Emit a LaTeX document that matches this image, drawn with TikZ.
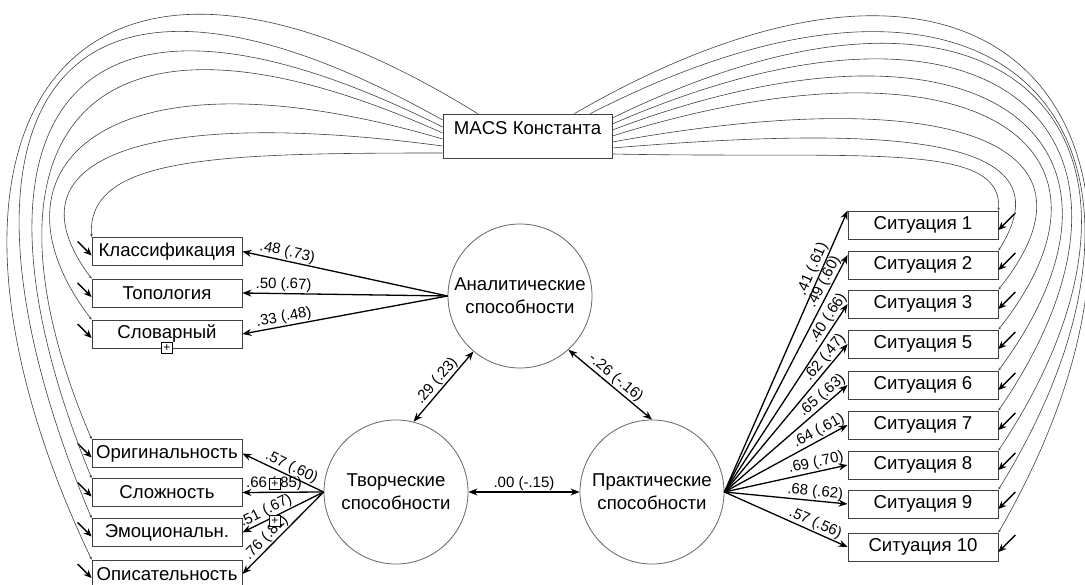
\documentclass[tikz,border=0pt]{standalone}
\usepackage{fontspec}
\setmainfont{Liberation Sans}
\usetikzlibrary{arrows.meta,calc,positioning}

\begin{document}
\begin{tikzpicture}[x=1pt,y=-1pt,
    var/.style={draw=black!75, line width=0.8pt, fill=white, minimum width=150pt, minimum height=28pt, inner sep=0pt, font=\fontsize{18.6}{20}\selectfont},
    fac/.style={circle, draw=black!60, line width=0.8pt, minimum size=144pt, inner sep=0pt, align=center, font=\fontsize{18.6}{23}\selectfont},
    load/.style={line width=1.3pt, -{Stealth[length=9pt,width=7pt]}},
    corr/.style={line width=1.3pt, {Stealth[length=9pt,width=7pt]}-{Stealth[length=9pt,width=7pt]}},
    est/.style={font=\fontsize{15}{16}\selectfont, sloped, above, inner sep=1pt},
    res/.style={line width=1.3pt, -{Stealth[length=8pt,width=7pt]}},
    cst/.style={line width=0.6pt, black!75, -{Stealth[length=3pt,width=2.5pt]}},
    plusbox/.style={draw, fill=white, minimum size=11pt, inner sep=0pt, line width=0.8pt, font=\fontsize{12}{12}\selectfont}]
    \useasboundingbox (0,0) rectangle (1085,585);

    % Constant
    \node[var, minimum width=169pt, text height=17pt, text depth=19pt, inner ysep=4pt] (macs) at (527.5,136) {MACS Константа};

    % Factors
    \node[fac] (an) at (520,296) {Аналитические\\способности};
    \node[fac] (tv) at (396,492) {Творческие\\способности};
    \node[fac] (pr) at (652,492) {Практические\\способности};

    % Indicators
    \foreach \n/\y/\t in {k1/251.5/Классификация, k2/293/Топология, k3/334/Словарный, k4/453.5/Оригинальность, k5/492.5/Сложность, k6/532.5/Эмоциональн., k7/574/Описательность}
        \node[var] (\n) at (167,\y) {\t};
    \foreach \n/\y/\t in {s1/225/Ситуация 1, s2/265/Ситуация 2, s3/304/Ситуация 3, s5/344/Ситуация 5, s6/385/Ситуация 6, s7/425/Ситуация 7, s8/465/Ситуация 8, s9/504/Ситуация 9, s10/547/Ситуация 10}
        \node[var] (\n) at (923,\y) {\t};

    % Loadings
    \draw[load] (an.west) -- node[est, pos=0.79] {.48 (.73)} (k1.east);
    \draw[load] (an.west) -- node[est, pos=0.8] {.50 (.67)} (k2.east);
    \draw[load] (an.west) -- node[est, pos=0.79] {.33 (.48)} (k3.east);

    \draw[load] (tv.west) -- node[est, pos=0.44] {.57 (.60)} (k4.east);
    \draw[load] (tv.west) -- node[est, pos=0.61] {.66 (.85)} (k5.east);
    \draw[load] (tv.west) -- node[est, pos=0.66] {.51 (.67)} (k6.east);
    \draw[load] (tv.west) -- node[est, pos=0.63] {.76 (.81)} (k7.east);

    \draw[load] (pr.east) -- node[est, pos=0.78] {.41 (.61)} (s1.north west);
    \draw[load] (pr.east) -- node[est, pos=0.87] {.49 (.60)} ([yshift=10pt]s2.west);
    \draw[load] (pr.east) -- node[est, pos=0.9] {.40 (.66)} (s3.west);
    \draw[load] (pr.east) -- node[est, pos=0.87] {.62 (.47)} (s5.west);
    \draw[load] (pr.east) -- node[est, pos=0.84] {.65 (.63)} (s6.west);
    \draw[load] (pr.east) -- node[est, pos=0.8] {.64 (.61)} (s7.west);
    \draw[load] (pr.east) -- node[est, pos=0.76] {.69 (.70)} (s8.west);
    \draw[load] (pr.east) -- node[est, pos=0.73] {.68 (.62)} (s9.west);
    \draw[load] (pr.east) -- node[est, pos=0.71] {.57 (.56)} (s10.west);

    % Factor correlations
    \draw[corr] (an.230) -- node[est] {.29 (.23)} (tv.76);
    \draw[corr] (an.-48) -- node[est] {-.26 (-.16)} (pr.90);
    \draw[corr] (tv.east) -- node[est] {.00 (-.15)} (pr.west);

    % Residuals
    \foreach \n in {k1,k2,k3,k4,k5,k6,k7} {
        \coordinate (e\n) at ($(\n.west)+(-14,-10)$);
        \draw[res] (e\n) -- ([yshift=-4pt]\n.west);
    }
    \foreach \n in {s1,s2,s3,s5,s6,s7,s8,s9,s10} {
        \coordinate (e\n) at ($(\n.east)+(17,-12)$);
        \draw[res] (e\n) -- ([yshift=-5pt]\n.east);
    }

    % MACS constant paths
    \foreach \n/\dy/\ax/\ay/\bx/\by in {k1/17/-230/0/-5/-80, k2/10/-300/-40/-90/-120, k3/3/-340/-100/-115/-150, k4/-3/-380/-170/-120/-280, k5/-9/-400/-200/-135/-330, k6/-16/-410/-230/-160/-380}
        \draw[cst] ($(macs.west)+(0,\dy)$) .. controls +(\ax,\ay) and +(\bx,\by) .. (\n.north west);
    \draw[cst] ($(macs.north west)+(35,0)$) .. controls +(-420,-260) and +(-200,-420) .. (k7.north west);
    \foreach \n/\dy/\ax/\ay/\bx/\by in {s1/18/250/5/5/-70, s2/12/300/-25/70/-110, s3/6/330/-60/120/-150, s5/0/350/-110/150/-190, s6/-6/370/-140/170/-230, s7/-12/390/-170/185/-270, s8/-18/410/-200/200/-300}
        \draw[cst] ($(macs.east)+(0,\dy)$) .. controls +(\ax,\ay) and +(\bx,\by) .. (\n.north east);
    \draw[cst] ($(macs.north east)+(-22,0)$) .. controls +(430,-220) and +(210,-340) .. (s9.north east);
    \draw[cst] ($(macs.north east)+(-38,0)$) .. controls +(450,-260) and +(220,-380) .. (s10.north east);

    % Markers
    \node[plusbox] (p1) at (k3.south) {+};
    \node[plusbox] (p2) at (275,484) {+};
    \node[plusbox] (p3) at (275,521) {+};
\end{tikzpicture}
\end{document}
